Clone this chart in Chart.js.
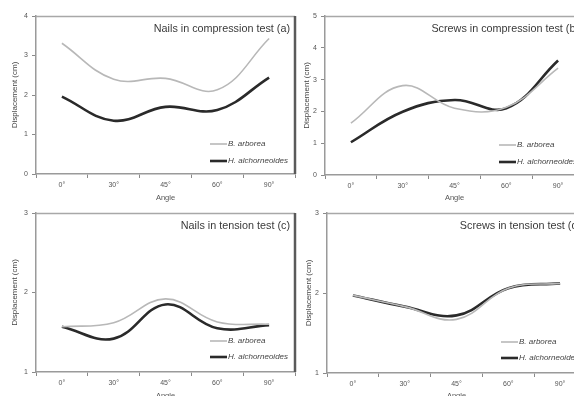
<!DOCTYPE html>
<html>
<head>
<meta charset="utf-8">
<script src="https://cdn.jsdelivr.net/npm/chart.js@4.4.1/dist/chart.umd.min.js"></script>
<style>
  html, body { margin: 0; padding: 0; background: #fff; width: 574px; height: 396px; overflow: hidden; }
  body { position: relative; }
  canvas { position: absolute; }
</style>
</head>
<body>
<canvas id="panelA" width="300" height="204" style="left:0px;top:0px"></canvas>
<canvas id="panelB" width="300" height="204" style="left:289px;top:0px"></canvas>
<canvas id="panelC" width="300" height="200" style="left:0px;top:200px"></canvas>
<canvas id="panelD" width="300" height="200" style="left:291px;top:200px"></canvas>
<script>
// Angles tested and the two timber species
const angles = ['0°', '30°', '45°', '60°', '90°'];
const speciesA = 'B. arborea';
const speciesB = 'H. alchorneoides';

// Displacement (cm) per angle
const nailsCompArborea  = [3.31, 2.40, 2.42, 2.13, 3.43];
const nailsCompAlch     = [1.96, 1.35, 1.70, 1.62, 2.44];
const screwsCompArborea = [1.63, 2.81, 2.10, 2.13, 3.36];
const screwsCompAlch    = [1.03, 1.99, 2.36, 2.10, 3.60];
const nailsTenArborea   = [1.57, 1.62, 1.92, 1.63, 1.60];
const nailsTenAlch      = [1.57, 1.42, 1.85, 1.55, 1.59];
const screwsTenArborea  = [1.97, 1.83, 1.67, 2.06, 2.12];
const screwsTenAlch     = [1.97, 1.83, 1.72, 2.06, 2.12];

const FONT = "'Liberation Sans', Arial, sans-serif";

// Frame, in-plot caption and inline legend
const framePlugin = {
  id: 'frame',
  afterDraw(chart, args, opts) {
    const { ctx, chartArea: a } = chart;
    ctx.save();
    ctx.lineCap = 'butt';
    // top edge of the plot box
    ctx.strokeStyle = '#a8a8a8';
    ctx.lineWidth = 1.5;
    ctx.beginPath();
    ctx.moveTo(a.left, a.top + 0.5);
    ctx.lineTo(a.right, a.top + 0.5);
    ctx.stroke();
    // right edge of the plot box
    ctx.strokeStyle = '#5a5a5a';
    ctx.lineWidth = 2.5;
    ctx.beginPath();
    ctx.moveTo(a.right, a.top);
    ctx.lineTo(a.right, a.bottom);
    ctx.stroke();
    // caption
    ctx.fillStyle = '#3a3a3a';
    ctx.font = '10.8px ' + FONT;
    ctx.textAlign = 'right';
    ctx.textBaseline = 'middle';
    ctx.fillText(opts.caption, a.right - 5, a.top + 13);
    // legend
    ctx.textAlign = 'left';
    ctx.font = 'italic 8px ' + FONT;
    const offs = opts.legendY;
    chart.data.datasets.forEach((ds, i) => {
      const y = a.bottom - offs[i];
      ctx.strokeStyle = ds.borderColor;
      ctx.lineWidth = ds.borderWidth;
      ctx.beginPath();
      ctx.moveTo(a.right - 85, y);
      ctx.lineTo(a.right - 68, y);
      ctx.stroke();
      ctx.fillStyle = '#444';
      ctx.fillText(ds.label, a.right - 67, y);
    });
    ctx.restore();
  }
};

function makePanel(id, cfg) {
  return new Chart(document.getElementById(id), {
    type: 'line',
    data: {
      labels: angles,
      datasets: [
        { label: speciesA, data: cfg.arborea, borderColor: '#b8b8b8', borderWidth: 1.6,
          tension: 0.4, pointRadius: 0, fill: false },
        { label: speciesB, data: cfg.alch, borderColor: '#2a2a2a', borderWidth: 2.6,
          tension: 0.4, pointRadius: 0, fill: false }
      ]
    },
    options: {
      responsive: false,
      animation: false,
      layout: { padding: { top: cfg.padTop, right: 5, left: 0, bottom: 0 } },
      plugins: {
        legend: { display: false },
        tooltip: { enabled: false },
        frame: { caption: cfg.caption, legendY: cfg.legendY }
      },
      scales: {
        x: {
          offset: true,
          grid: { display: true, drawOnChartArea: false, drawTicks: true, tickLength: 4, color: '#8a8a8a', offset: true },
          border: { display: true, color: '#9a9a9a', width: 1.5 },
          ticks: { color: '#555', font: { size: 7, family: FONT }, padding: 3, maxRotation: 0 },
          title: { display: true, text: 'Angle', color: '#555', font: { size: 7.5, family: FONT },
                   padding: { top: 0, bottom: cfg.xTitlePad } },
          afterFit(scale) { scale.height = cfg.xH; }
        },
        y: {
          min: cfg.yMin, max: cfg.yMax,
          grid: { display: true, drawOnChartArea: false, drawTicks: true, tickLength: 4, color: '#8a8a8a' },
          border: { display: true, color: '#9a9a9a', width: 1.5 },
          ticks: { stepSize: 1, color: '#555', font: { size: 7, family: FONT }, padding: 4 },
          title: { display: true, text: 'Displacement (cm)', color: '#444', font: { size: 8, family: FONT },
                   padding: { top: cfg.yTitlePad, bottom: 0 } },
          afterFit(scale) { scale.width = 36; }
        }
      }
    },
    plugins: [framePlugin]
  });
}

makePanel('panelA', {
  arborea: nailsCompArborea, alch: nailsCompAlch, yMin: 0, yMax: 4,
  caption: 'Nails in compression test (a)', padTop: 16, xH: 30, xTitlePad: 2, yTitlePad: 10,
  legendY: [30, 13]
});
makePanel('panelB', {
  arborea: screwsCompArborea, alch: screwsCompAlch, yMin: 0, yMax: 5,
  caption: 'Screws in compression test (b)', padTop: 16, xH: 29, xTitlePad: 2, yTitlePad: 13,
  legendY: [30, 13]
});
makePanel('panelC', {
  arborea: nailsTenArborea, alch: nailsTenAlch, yMin: 1, yMax: 3,
  caption: 'Nails in tension test (c)', padTop: 13, xH: 28, xTitlePad: 0, yTitlePad: 10,
  legendY: [31, 15]
});
makePanel('panelD', {
  arborea: screwsTenArborea, alch: screwsTenAlch, yMin: 1, yMax: 3,
  caption: 'Screws in tension test (d)', padTop: 13, xH: 27, xTitlePad: 0, yTitlePad: 13,
  legendY: [31, 15]
});
</script>
</body>
</html>
